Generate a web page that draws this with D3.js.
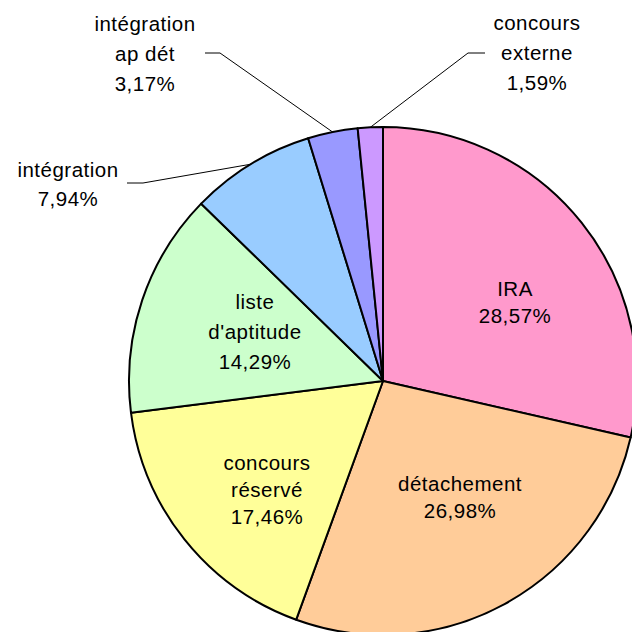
<!DOCTYPE html>
<html>
<head>
<meta charset="utf-8">
<script src="https://cdn.jsdelivr.net/npm/d3@7"></script>
<style>
  html, body { margin: 0; padding: 0; background: #fff; }
  svg { display: block; }
  text { font-family: "Liberation Sans", Arial, sans-serif; fill: #000; }
</style>
</head>
<body>
<svg id="chart" width="632" height="632"></svg>
<script>
// Data
const categories = ["IRA", "détachement", "concours réservé", "liste d'aptitude", "intégration", "intégration ap dét", "concours externe"];
const values = [28.57, 26.98, 17.46, 14.29, 7.94, 3.17, 1.59];
const labelLines = [["IRA"], ["détachement"], ["concours", "réservé"], ["liste", "d'aptitude"], ["intégration"], ["intégration", "ap dét"], ["concours", "externe"]];
const colors = ["#FF99CC", "#FFCC99", "#FFFF99", "#CCFFCC", "#99CCFF", "#9999FF", "#CC99FF"];

// Layout (label anchors: centre x, first baseline y; leader lines for outside labels)
const cx = 383, cy = 381, R = 254;
const fontSize = 20.5;
const labelLayout = [
  { x: 515, y: 296, lh: 27 },
  { x: 460, y: 491, lh: 27 },
  { x: 267, y: 470, lh: 27 },
  { x: 255, y: 309, lh: 30 },
  { x: 68,  y: 177, lh: 29, leader: [[127,183],[143,183]] },
  { x: 145, y: 31,  lh: 30, leader: [[205,53],[220,53]] },
  { x: 537, y: 30,  lh: 30, leader: [[485,53],[468,53]] }
];

const fmt = v => d3.format(".2f")(v).replace(".", ",") + "%";

const svg = d3.select("#chart");
const g = svg.append("g").attr("transform", `translate(${cx},${cy})`);

const pie = d3.pie().sort(null).value(d => d.value);
const data = categories.map((c, i) => ({ cat: c, value: values[i], i }));
const arcs = pie(data);
const arc = d3.arc().innerRadius(0).outerRadius(R);

g.selectAll("path.slice").data(arcs).enter().append("path")
  .attr("class", "slice")
  .attr("d", arc)
  .attr("fill", d => colors[d.data.i])
  .attr("stroke", "#000")
  .attr("stroke-width", 2)
  .attr("stroke-linejoin", "round");

// Leader lines: from horizontal stub to arc edge at slice mid-angle
arcs.forEach(a => {
  const L = labelLayout[a.data.i];
  if (!L.leader) return;
  const mid = (a.startAngle + a.endAngle) / 2;
  const ex = cx + Math.sin(mid) * R, ey = cy - Math.cos(mid) * R;
  const pts = L.leader.concat([[ex, ey]]);
  svg.append("path")
    .attr("d", d3.line()(pts))
    .attr("fill", "none")
    .attr("stroke", "#000")
    .attr("stroke-width", 1);
});

// Labels
arcs.forEach(a => {
  const i = a.data.i;
  const L = labelLayout[i];
  const lines = labelLines[i].concat([fmt(values[i])]);
  const t = svg.append("text")
    .attr("text-anchor", "middle")
    .attr("font-size", fontSize)
    .attr("letter-spacing", "0.5px");
  lines.forEach((ln, k) => {
    t.append("tspan").attr("x", L.x).attr("y", L.y + k * L.lh).text(ln);
  });
});
</script>
</body>
</html>
